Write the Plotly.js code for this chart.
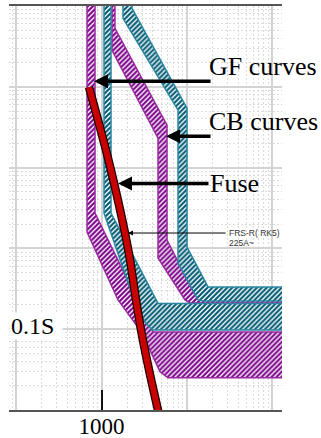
<!DOCTYPE html>
<html>
<head>
<meta charset="utf-8">
<script src="https://cdn.plot.ly/plotly-3.0.1.min.js"></script>
<style>
  html, body { margin: 0; padding: 0; background: #fff; }
  #chart { width: 321px; height: 438px; }
</style>
</head>
<body>
<div id="chart"></div>
<script>
// ---- data (current in A, time in s) ----
const gfA_current = [676, 676, 1562, 2988, 4861, 6033, 200000, 200000, 4022, 839, 839];
const gfA_time    = [2000, 1.595, 0.2302, 0.0900, 0.0297, 0.025, 0.025, 0.0926, 0.0926, 2.739, 2000];

const gfC_current = [1328, 1328, 4604, 4604, 9550, 10930, 200000, 200000, 12515, 5873, 5873, 1440, 1440];
const gfC_time    = [2000, 283.4, 23.15, 0.7608, 0.2302, 0.2114, 0.2114, 0.2655, 0.2655, 1.270, 33.52, 530.1, 2000];

const cbB_current = [1070, 1070, 2407, 3241, 3915, 200000, 200000, 4604, 1293, 1293];
const cbB_time    = [2000, 2.739, 0.2302, 0.1231, 0.098, 0.098, 0.2084, 0.2084, 2.739, 2000];

const cbD_current = [1788, 1788, 7907, 7907, 13570, 15540, 200000, 200000, 17780, 10081, 10081, 2280, 2280];
const cbD_time    = [2000, 704.6, 51.4, 0.6599, 0.2302, 0.2239, 0.2239, 0.3334, 0.3334, 1.041, 54.4, 936.8, 2000];

const fuse_current = [714, 910, 1129, 1402, 1887, 2161, 2541, 2909, 3611, 4650];
const fuse_time    = [98.9, 38.65, 16.46, 6.434, 1.55, 0.7188, 0.2302, 0.098, 0.0314, 0.0095];

const xTickVals = [1000];
const xTickText = ['1000'];

// arrow targets: [current, time, tail offset px]
const arrowGF   = [817, 117.3, 118];
const arrowCB   = [5715, 24.5, 46];
const arrowFuse = [1562, 6.34, 92];
const arrowFRS  = [2047, 1.55, 99];

const MAG_LINE = '#9a2aa0', MAG_HATCH = '#7a0088';
const CYA_LINE = '#2a86a0', CYA_HATCH = '#005a72';

function band(x, y, lineColor, hatch) {
  return {
    x: x, y: y, type: 'scatter', mode: 'lines', fill: 'toself',
    line: {color: lineColor, width: 1.5},
    fillcolor: 'white',
    fillpattern: {shape: '/', fgcolor: hatch, bgcolor: 'white', size: 3.5, solidity: 0.6},
    hoverinfo: 'skip', showlegend: false
  };
}

const traces = [
  band(gfA_current, gfA_time, MAG_LINE, MAG_HATCH),
  band(gfC_current, gfC_time, MAG_LINE, MAG_HATCH),
  band(cbB_current, cbB_time, CYA_LINE, CYA_HATCH),
  band(cbD_current, cbD_time, CYA_LINE, CYA_HATCH),
  {x: fuse_current, y: fuse_time, xaxis: 'x2', type: 'scatter', mode: 'lines',
   line: {color: '#1a0000', width: 8.5, shape: 'spline', smoothing: 0.8}, showlegend: false, hoverinfo: 'skip'},
  {x: fuse_current, y: fuse_time, xaxis: 'x2', type: 'scatter', mode: 'lines',
   line: {color: '#c80000', width: 6, shape: 'spline', smoothing: 0.8}, showlegend: false, hoverinfo: 'skip'}
];

const L = Math.log10;
const SERIF = 'Liberation Serif, Times New Roman, serif';
const SANS = 'Liberation Sans, Arial, sans-serif';

function arrowAnn(a, width, head, size) {
  return {x: L(a[0]), y: L(a[1]), xref: 'x', yref: 'y', ax: a[2], ay: 0, text: '',
          showarrow: true, arrowhead: head, arrowsize: size, arrowwidth: width, arrowcolor: '#000'};
}
function textAnn(t, px, py, font) {
  return {text: t, xref: 'paper', yref: 'paper', x: (px - 9) / 273, y: (410 - py) / 404,
          xanchor: 'left', yanchor: 'middle', showarrow: false, font: font};
}

const xRange = [1.9143, 5.1185];

const layout = {
  width: 321, height: 438,
  margin: {l: 9, r: 39, t: 6, b: 28, pad: 0},
  paper_bgcolor: '#fff', plot_bgcolor: '#fff',
  showlegend: false, hovermode: false,
  xaxis: {
    type: 'log', range: xRange, dtick: 1, showticklabels: false, ticks: '',
    showgrid: true, gridcolor: '#d4d4d4', gridwidth: 2,
    minor: {dtick: 'D1', showgrid: true, gridcolor: '#dcdcdc', gridwidth: 1, griddash: '2px,2px', ticks: ''},
    showline: true, linecolor: '#555', linewidth: 2, mirror: true, zeroline: false
  },
  xaxis2: {
    type: 'log', range: xRange, overlaying: 'x', anchor: 'y', side: 'bottom',
    tickmode: 'array', tickvals: xTickVals, ticktext: xTickText,
    ticks: 'inside', ticklen: 20, tickwidth: 2, tickcolor: '#111',
    tickfont: {family: SERIF, size: 23, color: '#000'},
    showgrid: false, showline: false, zeroline: false
  },
  yaxis: {
    type: 'log', range: [-2, 3], dtick: 1, showticklabels: false, ticks: '',
    showgrid: true, gridcolor: '#d4d4d4', gridwidth: 2,
    minor: {dtick: 'D1', showgrid: true, gridcolor: '#dcdcdc', gridwidth: 1, griddash: '2px,2px', ticks: ''},
    showline: false, zeroline: false
  },
  annotations: [
    arrowAnn(arrowGF, 3.5, 2, 0.8),
    arrowAnn(arrowCB, 3.5, 2, 0.8),
    arrowAnn(arrowFuse, 3.5, 2, 0.8),
    arrowAnn(arrowFRS, 1, 2, 1),
    textAnn('GF curves', 207, 66, {family: SERIF, size: 26, color: '#000'}),
    textAnn('CB curves', 207, 121, {family: SERIF, size: 26, color: '#000'}),
    textAnn('Fuse', 208, 183.5, {family: SERIF, size: 26, color: '#000'}),
    textAnn('FRS-R( RK5)', 227, 233, {family: SANS, size: 8.5, color: '#333'}),
    textAnn('225A~', 227, 243, {family: SANS, size: 8.5, color: '#333'}),
    Object.assign(textAnn('0.1S', 9, 325.5, {family: SERIF, size: 24, color: '#000'}),
                  {bgcolor: '#fff', width: 50, height: 24, align: 'left'})
  ]
};

Plotly.newPlot('chart', traces, layout, {staticPlot: true, displayModeBar: false});
</script>
</body>
</html>
